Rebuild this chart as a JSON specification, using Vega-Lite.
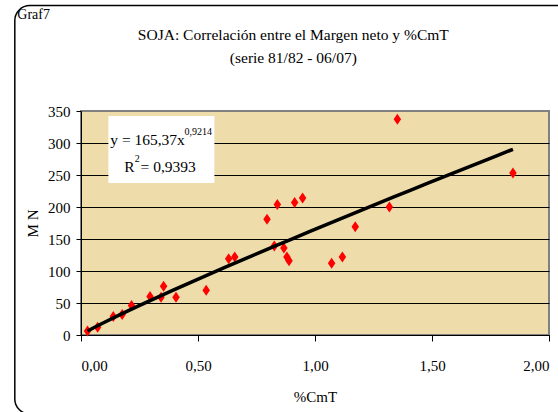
{
  "$schema": "https://vega.github.io/schema/vega-lite/v6.json",
  "width": 468,
  "height": 224,
  "autosize": "none",
  "padding": {"left": 81, "top": 111, "right": 9, "bottom": 77},
  "background": "white",
  "config": {
    "font": "'Liberation Serif', 'Times New Roman', 'DejaVu Serif', serif",
    "view": {"fill": "#EEDCAB", "stroke": "#808080", "strokeWidth": 2},
    "axis": {
      "labelFont": "'Liberation Serif', 'Times New Roman', 'DejaVu Serif', serif",
      "labelFontSize": 15,
      "labelColor": "black",
      "labelOverlap": false,
      "titleFont": "'Liberation Serif', 'Times New Roman', 'DejaVu Serif', serif",
      "titleFontSize": 15,
      "titleFontWeight": "normal",
      "titleColor": "black",
      "domainColor": "black",
      "domainWidth": 1,
      "tickColor": "black"
    },
    "axisY": {"tickCount": 8},
    "axisX": {"tickCount": 5}
  },
  "layer": [
    {
      "data": {"values": [{"k": "frame"}]},
      "mark": {"type": "rect", "filled": false, "stroke": "black", "strokeWidth": 1.5, "cornerRadius": 15},
      "encoding": {
        "x": {"datum": -0.2829, "type": "quantitative", "scale": {"domain": [0, 2], "nice": false}},
        "x2": {"datum": 2.112},
        "y": {"datum": 514.8, "type": "quantitative", "scale": {"domain": [0, 350], "nice": false}},
        "y2": {"datum": -123.4}
      }
    },
    {
      "data": {"values": [{"t": "Graf7"}]},
      "mark": {"type": "text", "align": "left", "baseline": "alphabetic", "fontSize": 14, "color": "black"},
      "encoding": {
        "x": {"datum": -0.2722, "type": "quantitative"},
        "y": {"datum": 494.5, "type": "quantitative"},
        "text": {"field": "t"}
      }
    },
    {
      "data": {"values": [{"t": "SOJA: Correlación entre el Margen neto y %CmT"}]},
      "mark": {"type": "text", "align": "center", "baseline": "alphabetic", "fontSize": 15.5, "color": "black"},
      "encoding": {
        "x": {"datum": 0.9073, "type": "quantitative"},
        "y": {"datum": 460.9, "type": "quantitative"},
        "text": {"field": "t"}
      }
    },
    {
      "data": {"values": [{"t": "(serie 81/82 - 06/07)"}]},
      "mark": {"type": "text", "align": "center", "baseline": "alphabetic", "fontSize": 15.5, "color": "black"},
      "encoding": {
        "x": {"datum": 0.9073, "type": "quantitative"},
        "y": {"datum": 425, "type": "quantitative"},
        "text": {"field": "t"}
      }
    },
    {
      "data": {"values": [
        {"cmt": 0.028, "mn": 6.2},
        {"cmt": 0.071, "mn": 12},
        {"cmt": 0.138, "mn": 29},
        {"cmt": 0.176, "mn": 32},
        {"cmt": 0.216, "mn": 46},
        {"cmt": 0.295, "mn": 60},
        {"cmt": 0.342, "mn": 59},
        {"cmt": 0.353, "mn": 76},
        {"cmt": 0.406, "mn": 59},
        {"cmt": 0.535, "mn": 70},
        {"cmt": 0.631, "mn": 119},
        {"cmt": 0.657, "mn": 122},
        {"cmt": 0.795, "mn": 181},
        {"cmt": 0.826, "mn": 139},
        {"cmt": 0.839, "mn": 204},
        {"cmt": 0.867, "mn": 136},
        {"cmt": 0.880, "mn": 122},
        {"cmt": 0.889, "mn": 116},
        {"cmt": 0.913, "mn": 207},
        {"cmt": 0.947, "mn": 214},
        {"cmt": 1.071, "mn": 112},
        {"cmt": 1.117, "mn": 122},
        {"cmt": 1.172, "mn": 169},
        {"cmt": 1.318, "mn": 200},
        {"cmt": 1.352, "mn": 337},
        {"cmt": 1.846, "mn": 253}
      ]},
      "layer": [
        {
          "mark": {"type": "point", "shape": "M0,-1L0.68,0L0,1L-0.68,0Z", "filled": true, "fill": "#FF0000", "opacity": 1, "size": 121, "strokeWidth": 0},
          "encoding": {
            "x": {
              "field": "cmt", "type": "quantitative",
              "scale": {"domain": [0, 2], "nice": false},
              "axis": {
                "title": "%CmT",
                "values": [0, 0.5, 1, 1.5, 2],
                "tickCount": 5,
                "grid": false,
                "tickSize": 6,
                "labelPadding": 17,
                "titlePadding": 16,
                "labelExpr": "replace(format(datum.value, '.2f'), '.', ',')"
              }
            },
            "y": {
              "field": "mn", "type": "quantitative",
              "scale": {"domain": [0, 350], "nice": false},
              "axis": {
                "title": "M N",
                "values": [0, 50, 100, 150, 200, 250, 300, 350],
                "tickCount": 8,
                "grid": true,
                "gridColor": {"condition": {"test": "datum.value === 350", "value": "#808080"}, "value": "black"},
                "gridWidth": 1,
                "gridOpacity": 1,
                "tickSize": 5,
                "labelPadding": 6,
                "titlePadding": 7
              }
            }
          }
        },
        {
          "transform": [{"regression": "mn", "on": "cmt", "method": "pow"}],
          "mark": {"type": "line", "color": "black", "strokeWidth": 3.5},
          "encoding": {
            "x": {"field": "cmt", "type": "quantitative"},
            "y": {"field": "mn", "type": "quantitative"}
          }
        }
      ]
    },
    {
      "data": {"values": [{"k": "box"}]},
      "mark": {"type": "rect", "fill": "white", "strokeWidth": 0},
      "encoding": {
        "x": {"datum": 0.117, "type": "quantitative"},
        "x2": {"datum": 0.570},
        "y": {"datum": 342, "type": "quantitative"},
        "y2": {"datum": 237.5}
      }
    },
    {
      "data": {"values": [{"t": "y = 165,37x"}]},
      "mark": {"type": "text", "align": "left", "baseline": "alphabetic", "fontSize": 15.5, "color": "black"},
      "encoding": {
        "x": {"datum": 0.125, "type": "quantitative"},
        "y": {"datum": 296.9, "type": "quantitative"},
        "text": {"field": "t"}
      }
    },
    {
      "data": {"values": [{"t": "0,9214"}]},
      "mark": {"type": "text", "align": "left", "baseline": "alphabetic", "fontSize": 10, "color": "black"},
      "encoding": {
        "x": {"datum": 0.4427, "type": "quantitative"},
        "y": {"datum": 312.5, "type": "quantitative"},
        "text": {"field": "t"}
      }
    },
    {
      "data": {"values": [{"t": "R"}]},
      "mark": {"type": "text", "align": "left", "baseline": "alphabetic", "fontSize": 15.5, "color": "black"},
      "encoding": {
        "x": {"datum": 0.185, "type": "quantitative"},
        "y": {"datum": 255.2, "type": "quantitative"},
        "text": {"field": "t"}
      }
    },
    {
      "data": {"values": [{"t": "2"}]},
      "mark": {"type": "text", "align": "left", "baseline": "alphabetic", "fontSize": 10, "color": "black"},
      "encoding": {
        "x": {"datum": 0.230, "type": "quantitative"},
        "y": {"datum": 270.8, "type": "quantitative"},
        "text": {"field": "t"}
      }
    },
    {
      "data": {"values": [{"t": "= 0,9393"}]},
      "mark": {"type": "text", "align": "left", "baseline": "alphabetic", "fontSize": 15.5, "color": "black"},
      "encoding": {
        "x": {"datum": 0.2545, "type": "quantitative"},
        "y": {"datum": 255.2, "type": "quantitative"},
        "text": {"field": "t"}
      }
    }
  ]
}
